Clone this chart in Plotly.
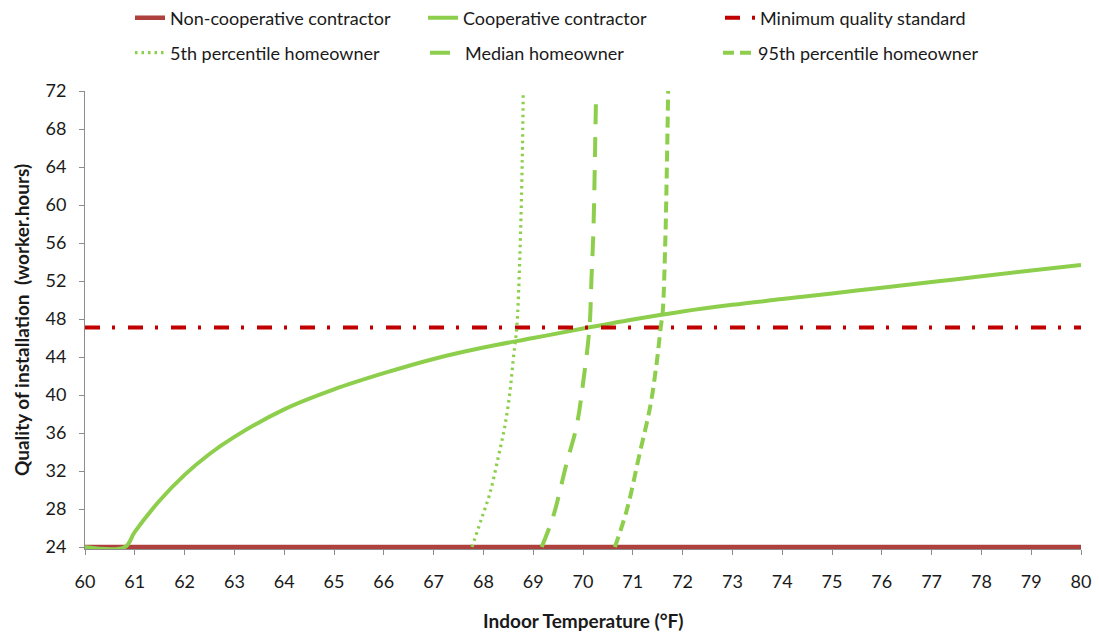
import plotly.graph_objects as go

# ---- data ----
temp_range = [60, 80]
noncoop_y = [24, 24]

coop_x = [60, 60.8, 61, 61.5, 62, 62.5, 63, 64, 65, 66, 67, 68, 69, 70, 71, 72, 73, 74, 75, 76, 77, 78, 79, 80]
coop_y = [24, 24, 25.6, 28.9, 31.6, 33.8, 35.6, 38.5, 40.6, 42.3, 43.8, 45.0, 46.0, 47.0, 47.95, 48.8, 49.5, 50.1, 50.7, 51.3, 51.9, 52.5, 53.1, 53.7]

min_quality = [47.1, 47.1]

p5_x = [67.77, 67.95, 68.13, 68.30, 68.43, 68.53, 68.60, 68.67, 68.73, 68.78, 68.80]
p5_y = [24.0, 26.8, 29.65, 33.5, 36.7, 40.2, 43.8, 47.1, 54.3, 64.6, 72.0]

median_x = [69.17, 69.40, 69.67, 69.87, 70.01, 70.13, 70.17, 70.21, 70.25, 70.26]
median_y = [24.0, 27.2, 32.8, 36.7, 41.6, 47.1, 52.2, 57.5, 68.1, 70.9]

p95_x = [70.64, 70.88, 71.14, 71.35, 71.48, 71.56, 71.60, 71.65, 71.68, 71.71]
p95_y = [24.0, 27.9, 33.9, 38.8, 43.4, 47.1, 48.7, 55.7, 62.8, 72.0]

x_ticks = list(range(60, 81, 1))
y_ticks = list(range(24, 73, 4))

x_title = "Indoor Temperature (°F)"
y_title = "Quality of installation\u2002(worker.hours)"

FONT = "Lato, 'Open Sans', sans-serif"
GREEN = "#8DCF4C"
RED = "#C00000"
BROWN = "#AE403D"
TXT = "#1a1a1a"
W, H = 1099, 633

fig = go.Figure()
fig.add_trace(go.Scatter(x=temp_range, y=noncoop_y, mode="lines", name="Non-cooperative contractor",
                         line=dict(color=BROWN, width=4.5), legend="legend"))
fig.add_trace(go.Scatter(x=coop_x, y=coop_y, mode="lines", name="Cooperative contractor",
                         line=dict(color=GREEN, width=4, shape="spline", smoothing=1.0), legend="legend2"))
fig.add_trace(go.Scatter(x=temp_range, y=min_quality, mode="lines", name="Minimum quality standard",
                         line=dict(color=RED, width=4, dash="15px,12px,3px,13px"), legend="legend3"))
fig.add_trace(go.Scatter(x=p5_x, y=p5_y, mode="lines", name="5th percentile homeowner",
                         line=dict(color=GREEN, width=3.2, dash="2.5px,4px", shape="spline", smoothing=1.0), legend="legend4"))
fig.add_trace(go.Scatter(x=median_x, y=median_y, mode="lines", name="Median homeowner",
                         line=dict(color=GREEN, width=4, dash="20px,13px", shape="spline", smoothing=1.0), legend="legend5"))
fig.add_trace(go.Scatter(x=p95_x, y=p95_y, mode="lines", name="95th percentile homeowner",
                         line=dict(color=GREEN, width=4, dash="11px,6px", shape="spline", smoothing=1.0), legend="legend6"))

def leg(px, py):
    return dict(x=px / W, y=1 - py / H, xanchor="left", yanchor="middle",
                xref="container", yref="container",
                bgcolor="rgba(0,0,0,0)", font=dict(family=FONT, size=18, color=TXT),
                itemwidth=30, tracegroupgap=0)

fig.update_layout(
    width=W, height=H,
    margin=dict(l=85, r=18, t=91, b=84, autoexpand=False),
    paper_bgcolor="white", plot_bgcolor="white",
    font=dict(family=FONT, size=18, color=TXT),
    showlegend=True,
    legend=leg(130, 18),
    legend2=leg(423, 18),
    legend3=leg(720, 18),
    legend4=leg(130, 53),
    legend5=leg(425, 53),
    legend6=leg(718, 53),
    xaxis=dict(range=[60, 80], tickvals=x_ticks, ticktext=[str(v) for v in x_ticks],
               showgrid=False, zeroline=False, showline=True, linecolor="#8c8c8c", linewidth=1,
               ticks="outside", ticklen=5, tickcolor="#8c8c8c", ticklabelstandoff=11,
               automargin=False,
               tickfont=dict(family=FONT, size=18, color=TXT)),
    yaxis=dict(range=[23.8, 72], tickvals=y_ticks, ticktext=[str(v) for v in y_ticks],
               showgrid=False, zeroline=False, showline=True, linecolor="#8c8c8c", linewidth=1,
               ticks="outside", ticklen=5, tickcolor="#8c8c8c", ticklabelstandoff=9,
               automargin=False,
               tickfont=dict(family=FONT, size=18, color=TXT)),
    annotations=[
        dict(text="<b>" + x_title + "</b>", xref="paper", yref="paper",
             x=0.5, y=1 - (620 - 91) / (H - 91 - 84), xanchor="center", yanchor="middle",
             showarrow=False, font=dict(family=FONT, size=19, color=TXT)),
        dict(text="<b>" + y_title + "</b>", xref="paper", yref="paper",
             x=(21 - 85) / (W - 85 - 18), y=(547 - 319) / (547 - 91), xanchor="center", yanchor="middle",
             textangle=-90, showarrow=False, font=dict(family=FONT, size=19, color=TXT)),
    ],
)

fig.write_html("out.html", config={"displayModeBar": False},
               post_script="document.body.style.margin='0px';")
